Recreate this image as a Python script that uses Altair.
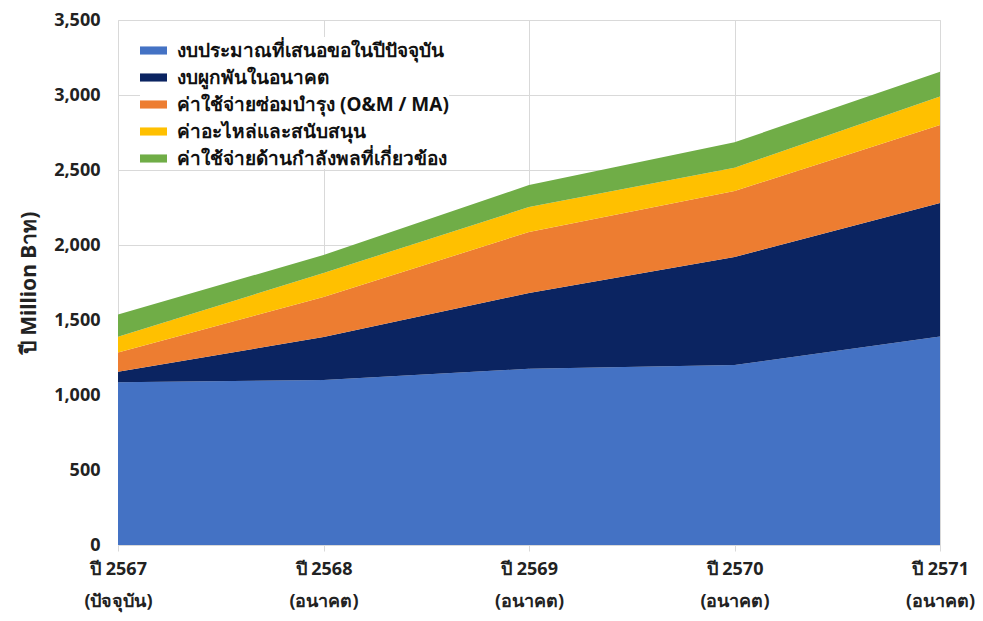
import altair as alt
import pandas as pd

years = ["ปี 2567\n(ปัจจุบัน)", "ปี 2568\n(อนาคต)", "ปี 2569\n(อนาคต)", "ปี 2570\n(อนาคต)", "ปี 2571\n(อนาคต)"]
series = [
    "งบประมาณที่เสนอขอในปีปัจจุบัน",
    "งบผูกพันในอนาคต",
    "ค่าใช้จ่ายซ่อมบำรุง (O&M / MA)",
    "ค่าอะไหล่และสนับสนุน",
    "ค่าใช้จ่ายด้านกำลังพลที่เกี่ยวข้อง",
]
colors = ["#4472C4", "#0B2461", "#ED7D31", "#FFC000", "#70AD47"]

current_budget = [1085, 1100, 1175, 1200, 1390]
future_commit = [70, 287, 505, 720, 890]
om_ma = [128, 266, 407, 440, 520]
spare_parts = [106, 160, 166, 155, 190]
personnel = [147, 120, 147, 170, 165]

rows = []
for si, (name, vals) in enumerate(zip(series, [current_budget, future_commit, om_ma, spare_parts, personnel])):
    for yi, (yr, v) in enumerate(zip(years, vals)):
        rows.append({"year": yr, "series": name, "value": v, "idx": si, "yi": yi})
df = pd.DataFrame(rows)

FONT = "Noto Sans"

chart = alt.Chart(df).mark_area(opacity=1).encode(
    x=alt.X("year:O", sort=years, scale=alt.Scale(type="point", padding=0),
            axis=alt.Axis(title=None, labelExpr="split(datum.label, '\\n')", labelAngle=0,
                          grid=True, gridColor="#d9d9d9", domain=False, ticks=True, tickColor="#d9d9d9",
                          tickSize=6, labelFontSize=18, labelFontWeight="bold", labelColor="#222",
                          labelPadding=9, labelLineHeight=32, labelFont=FONT)),
    y=alt.Y("value:Q", stack="zero", scale=alt.Scale(domain=[0, 3500]),
            axis=alt.Axis(title="ปี Million Bาท)", values=list(range(0, 3501, 500)), format=",.0f",
                          grid=True, gridColor="#d9d9d9", domain=False, ticks=False,
                          labelFontSize=18, labelFontWeight="bold", labelColor="#222", labelPadding=18,
                          titleFontSize=21, titleFontWeight="bold", titleColor="#222", titlePadding=14,
                          labelFont=FONT, titleFont=FONT)),
    color=alt.Color("series:N", sort=series, scale=alt.Scale(domain=series, range=colors),
                    legend=alt.Legend(title=None, orient="none", legendX=22, legendY=17,
                                      symbolType="M-1,-0.3H1V0.3H-1Z", symbolSize=729, symbolStrokeWidth=0,
                                      labelFontSize=19, labelFontWeight="bold", labelColor="#111",
                                      labelFont=FONT, rowPadding=3, labelLimit=400, labelOffset=10,
                                      fillColor="white")),
    order=alt.Order("idx:Q", sort="ascending"),
).properties(
    width=822, height=525,
    autosize=alt.AutoSizeParams(type="none"),
    padding={"left": 110, "top": 12, "right": 35, "bottom": 68},
).configure_view(stroke=None).configure(background="white")

chart.save("out.html", embed_options={"renderer": "svg", "actions": False})
